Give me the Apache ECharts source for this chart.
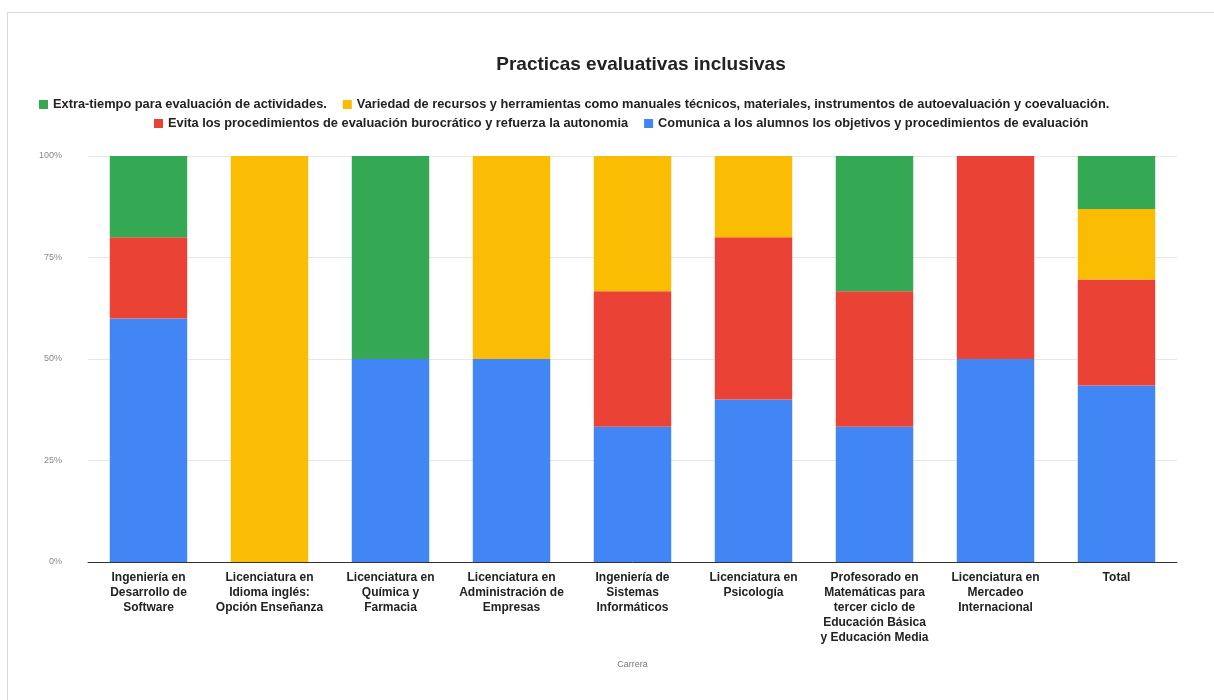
<!DOCTYPE html>
<html>
<head>
<meta charset="utf-8">
<script src="https://cdn.jsdelivr.net/npm/echarts@6/dist/echarts.min.js"></script>
<style>
html,body{margin:0;padding:0;background:#fff;}
#chart{width:1214px;height:700px;}
</style>
</head>
<body>
<div id="chart"></div>
<script>
// Categories (tick labels, with line breaks as in the reference)
const categories = [
  "Ingeniería en\nDesarrollo de\nSoftware",
  "Licenciatura en\nIdioma inglés:\nOpción Enseñanza",
  "Licenciatura en\nQuímica y\nFarmacia",
  "Licenciatura en\nAdministración de\nEmpresas",
  "Ingeniería de\nSistemas\nInformáticos",
  "Licenciatura en\nPsicología",
  "Profesorado en\nMatemáticas para\ntercer ciclo de\nEducación Básica\ny Educación Media",
  "Licenciatura en\nMercadeo\nInternacional",
  "Total"
];
// Series counts (stacked to 100%)
const comunica  = [3, 0, 1, 1, 1, 2, 1, 1, 10];
const evita     = [1, 0, 0, 0, 1, 2, 1, 1, 6];
const variedad  = [0, 1, 0, 1, 1, 1, 0, 0, 4];
const extra     = [1, 0, 1, 0, 0, 0, 1, 0, 3];
const yTickLabels = ["0%", "25%", "50%", "75%", "100%"];

const names = {
  extra: "Extra-tiempo para evaluación de actividades.",
  variedad: "Variedad de recursos y herramientas como manuales técnicos, materiales, instrumentos de autoevaluación y coevaluación.",
  evita: "Evita los procedimientos de evaluación burocrático y refuerza la autonomia",
  comunica: "Comunica a los alumnos los objetivos y procedimientos de evaluación"
};
const colors = {extra:"#34A853", variedad:"#FBBC04", evita:"#EA4335", comunica:"#4285F4"};

const totals = categories.map((c,i)=>comunica[i]+evita[i]+variedad[i]+extra[i]);
const pct = arr => arr.map((v,i)=> totals[i] ? v/totals[i]*100 : 0);

const font = "'Liberation Sans', Arial, sans-serif";
function mk(key, arr){
  return {
    name: names[key], type:'bar', stack:'s', data: pct(arr),
    itemStyle:{color:colors[key]}, barCategoryGap:'36%'
  };
}
const legendCommon = {
  itemWidth:9, itemHeight:9, itemGap:16, icon:'rect',
  textStyle:{fontFamily:font, fontSize:12.8, color:'#222', fontWeight:'bold'},
  selectedMode:false
};
const chart = echarts.init(document.getElementById('chart'));
chart.setOption({
  backgroundColor:'#fff',
  animation:false,
  graphic:[{type:'rect', shape:{x:7.5,y:12.5,width:1220,height:700}, style:{fill:'none', stroke:'#d9d9d9', lineWidth:1}}],
  title:{text:'Practicas evaluativas inclusivas', left:636, textAlign:'center', top:50,
    textStyle:{fontFamily:font, fontSize:19, fontWeight:'bold', color:'#222'}},
  legend:[
    Object.assign({top:93, left:34, data:[names.extra, names.variedad]}, legendCommon),
    Object.assign({top:112, left:149, data:[names.evita, names.comunica]}, legendCommon)
  ],
  grid:{left:88, right:37, top:156, bottom:138},
  xAxis:{type:'category', data:categories,
    name:'Carrera', nameLocation:'middle', nameGap:98,
    nameTextStyle:{fontFamily:font, fontSize:9, color:'#777'},
    axisLine:{lineStyle:{color:'#333'}}, axisTick:{show:false},
    axisLabel:{interval:0, fontFamily:font, fontSize:12, fontWeight:'bold', color:'#222', lineHeight:15, margin:8}
  },
  yAxis:{type:'value', min:0, max:100, interval:25,
    axisLine:{show:false}, axisTick:{show:false},
    splitLine:{lineStyle:{color:'#e6e6e6'}},
    axisLabel:{fontFamily:font, fontSize:9, color:'#888', margin:26,
      formatter:v=>yTickLabels[Math.round(v/25)]}
  },
  series:[mk('comunica',comunica), mk('evita',evita), mk('variedad',variedad), mk('extra',extra)]
});
</script>
</body>
</html>
